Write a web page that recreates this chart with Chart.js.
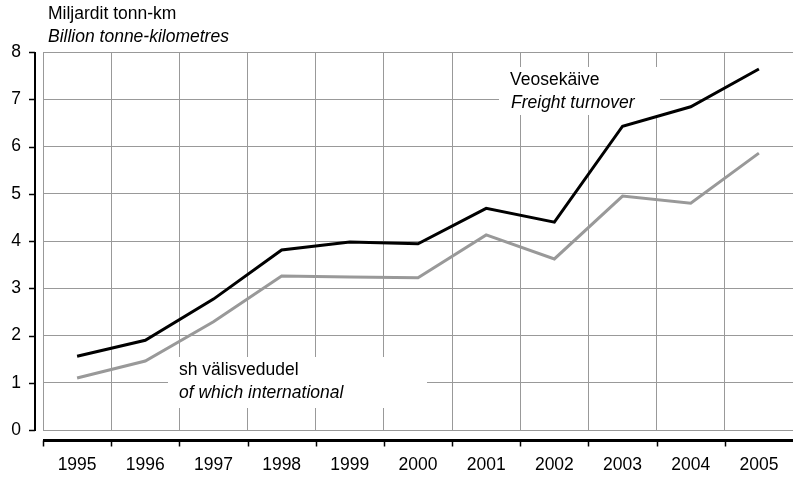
<!DOCTYPE html>
<html>
<head>
<meta charset="utf-8">
<script src="https://cdn.jsdelivr.net/npm/chart.js@4.4.1/dist/chart.umd.min.js"></script>
<style>
  html, body { margin: 0; padding: 0; background: #fff; }
  #wrap { width: 793px; height: 477px; position: relative; }
</style>
</head>
<body>
<div id="wrap"><canvas id="chart"></canvas></div>
<script>
// Freight turnover chart (billion tonne-km)

const years = ['1995', '1996', '1997', '1998', '1999', '2000', '2001', '2002', '2003', '2004', '2005'];
const freightTurnover = [1.56, 1.9, 2.77, 3.81, 3.98, 3.94, 4.69, 4.4, 6.43, 6.84, 7.64];
const international = [1.1, 1.46, 2.29, 3.26, 3.24, 3.22, 4.13, 3.62, 4.95, 4.8, 5.86];
const yTicks = [0, 1, 2, 3, 4, 5, 6, 7, 8];

const FONT = '"Liberation Sans", Arial, Helvetica, sans-serif';
const FS = 17.5;

// Axis lines drawn offset from the plot area, plus titles and labelled white boxes
const decorations = {
    id: 'decorations',
    beforeDatasetsDraw(chart) {
        const ctx = chart.ctx;
        ctx.save();
        ctx.fillStyle = '#fff';
        ctx.fillRect(499, 67, 161, 48);
        ctx.fillRect(168, 357, 259, 51);

        ctx.fillStyle = '#000';
        ctx.textAlign = 'left';
        ctx.textBaseline = 'alphabetic';
        ctx.font = FS + 'px ' + FONT;
        ctx.fillText('Veosekäive', 510, 85);
        ctx.fillText('sh välisvedudel', 179, 375);
        ctx.font = 'italic ' + FS + 'px ' + FONT;
        ctx.fillText('Freight turnover', 511, 108);
        ctx.fillText('of which international', 179, 398);
        ctx.restore();
    },
    afterDraw(chart) {
        const ctx = chart.ctx;
        const area = chart.chartArea;
        const x = chart.scales.x;
        const y = chart.scales.y;
        ctx.save();
        ctx.strokeStyle = '#000';

        // y axis
        const ax = area.left - 8;
        ctx.lineWidth = 2;
        ctx.beginPath();
        ctx.moveTo(ax, y.getPixelForValue(8));
        ctx.lineTo(ax, y.getPixelForValue(0) + 1);
        ctx.stroke();
        ctx.lineWidth = 1.5;
        yTicks.forEach(v => {
            const py = Math.round(y.getPixelForValue(v)) + 0.5;
            ctx.beginPath();
            ctx.moveTo(ax - 6, py);
            ctx.lineTo(ax, py);
            ctx.stroke();
        });

        // x axis
        const ay = area.bottom + 10.5;
        ctx.lineWidth = 3;
        ctx.beginPath();
        ctx.moveTo(area.left, ay);
        ctx.lineTo(area.right, ay);
        ctx.stroke();
        ctx.lineWidth = 1.5;
        const step = x.getPixelForValue(1) - x.getPixelForValue(0);
        for (let i = 0; i < years.length; i++) {
            const px = Math.round(x.getPixelForValue(i) - step / 2) + 0.5;
            ctx.beginPath();
            ctx.moveTo(px, ay);
            ctx.lineTo(px, ay + 6);
            ctx.stroke();
        }

        // axis title
        ctx.fillStyle = '#000';
        ctx.textAlign = 'left';
        ctx.textBaseline = 'alphabetic';
        ctx.font = FS + 'px ' + FONT;
        ctx.fillText('Miljardit tonn-km', 48, 18.5);
        ctx.font = 'italic ' + FS + 'px ' + FONT;
        ctx.fillText('Billion tonne-kilometres', 48, 42);
        ctx.restore();
    }
};

new Chart(document.getElementById('chart'), {
    type: 'line',
    data: {
        labels: years,
        datasets: [
            {
                label: 'Veosekäive / Freight turnover',
                data: freightTurnover,
                borderColor: '#000',
                borderWidth: 3,
                pointRadius: 0,
                tension: 0,
                order: 1
            },
            {
                label: 'sh välisvedudel / of which international',
                data: international,
                borderColor: '#999',
                borderWidth: 3,
                pointRadius: 0,
                tension: 0,
                order: 2
            }
        ]
    },
    options: {
        responsive: true,
        maintainAspectRatio: false,
        animation: false,
        layout: { padding: { top: 52, right: 0, bottom: 0, left: 0 } },
        plugins: {
            legend: { display: false },
            tooltip: { enabled: false }
        },
        scales: {
            x: {
                offset: true,
                afterFit: (s) => { s.height = 47; s.paddingLeft = 0; s.paddingRight = 0; },
                border: { display: false },
                grid: { offset: true, color: '#999', lineWidth: 1, drawTicks: false },
                ticks: { color: '#000', padding: 25, maxRotation: 0, font: { family: FONT, size: FS } }
            },
            y: {
                min: 0,
                max: 8,
                afterFit: (s) => { s.width = 43; },
                border: { display: false },
                grid: { color: '#999', lineWidth: 1, drawTicks: false },
                ticks: { color: '#000', padding: 22, stepSize: 1, font: { family: FONT, size: FS } }
            }
        }
    },
    plugins: [decorations]
});
</script>
</body>
</html>
